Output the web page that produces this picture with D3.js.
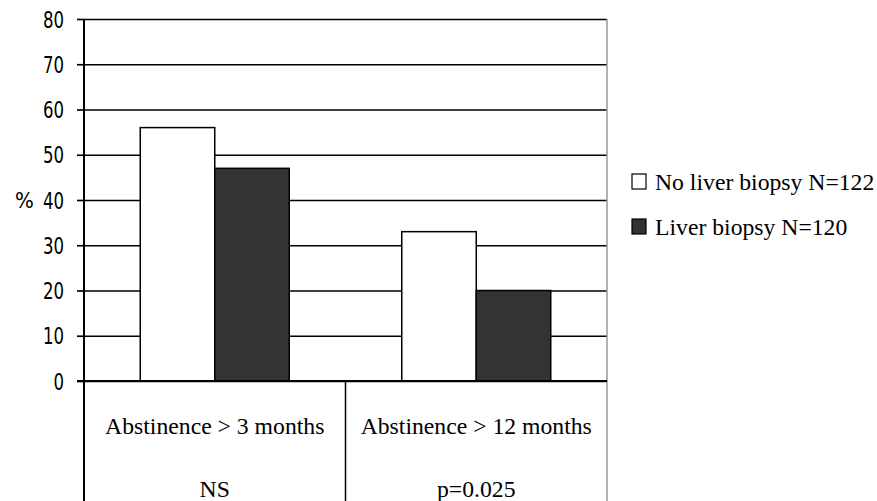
<!DOCTYPE html>
<html>
<head>
<meta charset="utf-8">
<script src="https://cdn.jsdelivr.net/npm/d3@7"></script>
<style>
  body { margin: 0; background: #fff; }
  svg { display: block; }
</style>
</head>
<body>
<div id="chart"></div>
<script>
// values
var categories = ["Abstinence > 3 months", "Abstinence > 12 months"];
var pValues = ["NS", "p=0.025"];
var seriesNames = ["No liver biopsy N=122", "Liver biopsy N=120"];
var noBiopsy = [56, 33];
var biopsy = [47, 20];
var yTicks = [0, 10, 20, 30, 40, 50, 60, 70, 80];
var colors = ["#ffffff", "#333333"];

var width = 877, height = 501;
// plot box (don't call these top/left, window.top is read only)
var plotLeft = 84, plotRight = 607, plotTop = 19, plotBottom = 381;
var tickFont = "'DejaVu Sans Condensed', 'DejaVu Sans', sans-serif";
var squeeze = 0.8; // y labels are narrow in the picture

var svg = d3.select("#chart").append("svg")
    .attr("width", width)
    .attr("height", height);

var y = d3.scaleLinear().domain([0, 80]).range([plotBottom, plotTop]);
var x = d3.scaleBand().domain(categories).range([plotLeft, plotRight]).padding(0);
var xs = d3.scaleBand().domain(seriesNames).range([0, x.bandwidth()]).paddingInner(0).paddingOuter(0.755);

// gridlines
svg.append("g")
    .attr("transform", "translate(" + plotLeft + ",0)")
    .call(d3.axisLeft(y).tickValues(yTicks).tickSize(-(plotRight - plotLeft)).tickFormat(""))
    .call(function(g) {
        g.select(".domain").remove();
        g.selectAll("line").attr("stroke", "#000").attr("stroke-width", 1.7);
    });

// right border of the plot
svg.append("line")
    .attr("x1", plotRight).attr("x2", plotRight)
    .attr("y1", y(80)).attr("y2", height)
    .attr("stroke", "#999").attr("stroke-width", 1.5);

// bars
var rows = categories.map(function(c, i) {
    return {cat: c, vals: [noBiopsy[i], biopsy[i]]};
});

svg.append("g").selectAll("g")
    .data(rows)
    .enter()
    .append("g")
    .attr("transform", function(d) { return "translate(" + x(d.cat) + ",0)"; })
    .selectAll("rect")
    .data(function(d) { return d.vals; })
    .enter()
    .append("rect")
    .attr("x", function(d, i) { return xs(seriesNames[i]); })
    .attr("y", function(d) { return y(d); })
    .attr("width", xs.bandwidth())
    .attr("height", function(d) { return y(0) - y(d); })
    .attr("fill", function(d, i) { return colors[i]; })
    .attr("stroke", "#000")
    .attr("stroke-width", 1.5);

// y axis with ticks
svg.append("g")
    .attr("transform", "translate(" + plotLeft + ",0)")
    .call(d3.axisLeft(y).tickValues(yTicks).tickSize(7))
    .call(function(g) {
        g.attr("font-family", tickFont).attr("font-size", 23);
        g.select(".domain").attr("stroke", "#000").attr("stroke-width", 2).attr("d", "M0," + plotTop + "V" + height);
        g.selectAll("line").attr("stroke", "#000").attr("stroke-width", 1.7);
        g.selectAll("text")
            .attr("fill", "#000")
            .attr("dy", "0.35em")
            .attr("transform", "scale(" + squeeze + ",1)")
            .attr("x", -20 / squeeze);
    });

svg.append("text")
    .attr("x", 15)
    .attr("y", y(40))
    .attr("dy", "0.35em")
    .attr("font-family", tickFont)
    .attr("font-size", 22)
    .text("%");

// zero line
svg.append("line")
    .attr("x1", plotLeft - 7).attr("x2", plotRight)
    .attr("y1", y(0)).attr("y2", y(0))
    .attr("stroke", "#000").attr("stroke-width", 2);

// table under the x axis
svg.append("g").selectAll("line")
    .data(categories.slice(1))
    .enter()
    .append("line")
    .attr("x1", function(d) { return x(d); })
    .attr("x2", function(d) { return x(d); })
    .attr("y1", y(0))
    .attr("y2", height)
    .attr("stroke", "#000")
    .attr("stroke-width", 1.5);

svg.append("g").selectAll("text")
    .data(categories)
    .enter()
    .append("text")
    .attr("x", function(d) { return x(d) + x.bandwidth() / 2; })
    .attr("y", 434)
    .attr("text-anchor", "middle")
    .style("font-family", "'Liberation Serif', 'Times New Roman', serif")
    .style("font-size", "23.7px")
    .text(function(d) { return d; });

svg.append("g").selectAll("text")
    .data(pValues)
    .enter()
    .append("text")
    .attr("x", function(d, i) { return x(categories[i]) + x.bandwidth() / 2; })
    .attr("y", 497)
    .attr("text-anchor", "middle")
    .style("font-family", "'Liberation Serif', 'Times New Roman', serif")
    .style("font-size", "23.7px")
    .text(function(d) { return d; });

// legend
var legend = svg.append("g").selectAll("g")
    .data(seriesNames)
    .enter()
    .append("g")
    .attr("transform", function(d, i) { return "translate(632," + (174 + i * 45) + ")"; });

legend.append("rect")
    .attr("width", 14)
    .attr("height", 15)
    .attr("fill", function(d, i) { return colors[i]; })
    .attr("stroke", "#000")
    .attr("stroke-width", 1.2);

legend.append("text")
    .attr("x", 23)
    .attr("y", 16)
    .style("font-family", "'Liberation Serif', 'Times New Roman', serif")
    .style("font-size", "23.7px")
    .text(function(d) { return d; });
</script>
</body>
</html>
